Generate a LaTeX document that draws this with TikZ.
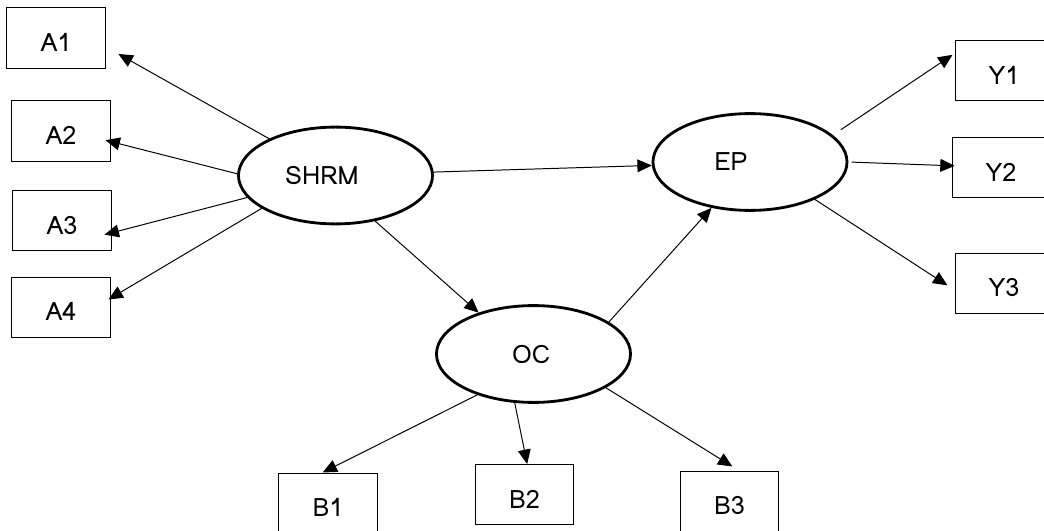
\documentclass[tikz,border=0pt]{standalone}
\usepackage{fontspec}
\setmainfont{Loma}
\usetikzlibrary{shapes.geometric,arrows.meta}
\begin{document}
\begin{tikzpicture}[x=0.025cm,y=-0.025cm,font=\fontsize{18}{20}\selectfont,
item/.style={draw,rectangle,line width=0.7pt,minimum width=2.45cm,minimum height=1.5cm,inner sep=0pt,text height=0.68cm,text depth=0pt},
factor/.style={draw,ellipse,line width=2pt,minimum width=4.85cm,minimum height=2.42cm,inner sep=0pt},
link/.style={line width=0.7pt,-{Triangle[length=0.36cm,width=0.32cm]}}]
\useasboundingbox (0,0) rectangle (1044,531);

\node (a1) at (56,38) [item]{A1};
\node (a2) at (61,131) [item]{A2};
\node (a3) at (62,220.5) [item]{A3};
\node (a4) at (61,307) [item]{A4};

\node (shrm) at (335.5,175.5) [factor]{SHRM\hspace*{0.68cm}};
\node (ep) at (750,162) [factor]{EP\hspace*{0.95cm}};
\node (oc) at (533.5,354) [factor]{OC\hspace*{0.12cm}};

\node (y1) at (1004,70.5) [item]{Y1};
\node (y2) at (1001,167.5) [item]{Y2};
\node (y3) at (1004,283) [item]{Y3};

\node (b1) at (328,503) [item]{B1};
\node (b2) at (524.5,494.5) [item]{B2};
\node (b3) at (729.5,501) [item]{B3};

\draw[link,shorten >=0.37cm] (shrm.151)--(a1.-10);
\draw[link,shorten >=-0.13cm] (shrm.179)--(a2.-12);
\draw[link,shorten >=-0.18cm] (shrm.194)--(a3.-14);
\draw[link,shorten >=-0.06cm] (shrm.204)--(a4.10);
\draw[link] (shrm.2)--(ep.182);
\draw[link] (shrm.-49)--(oc.143);
\draw[link] (oc.23)--(ep.230);
\draw[link,shorten <=0.24cm,shorten >=0.06cm] (ep.18)--(y1.161);
\draw[link,shorten <=0.08cm,shorten >=-0.08cm] (ep.0)--(y2.178);
\draw[link,shorten >=0.21cm] (ep.-30)--(y3.188);
\draw[link] (oc.216)--(b1.100);
\draw[link] (oc.249)--(b2.85);
\draw[link,shorten >=0.19cm] (oc.-25)--(b3.73);

\end{tikzpicture}
\end{document}
